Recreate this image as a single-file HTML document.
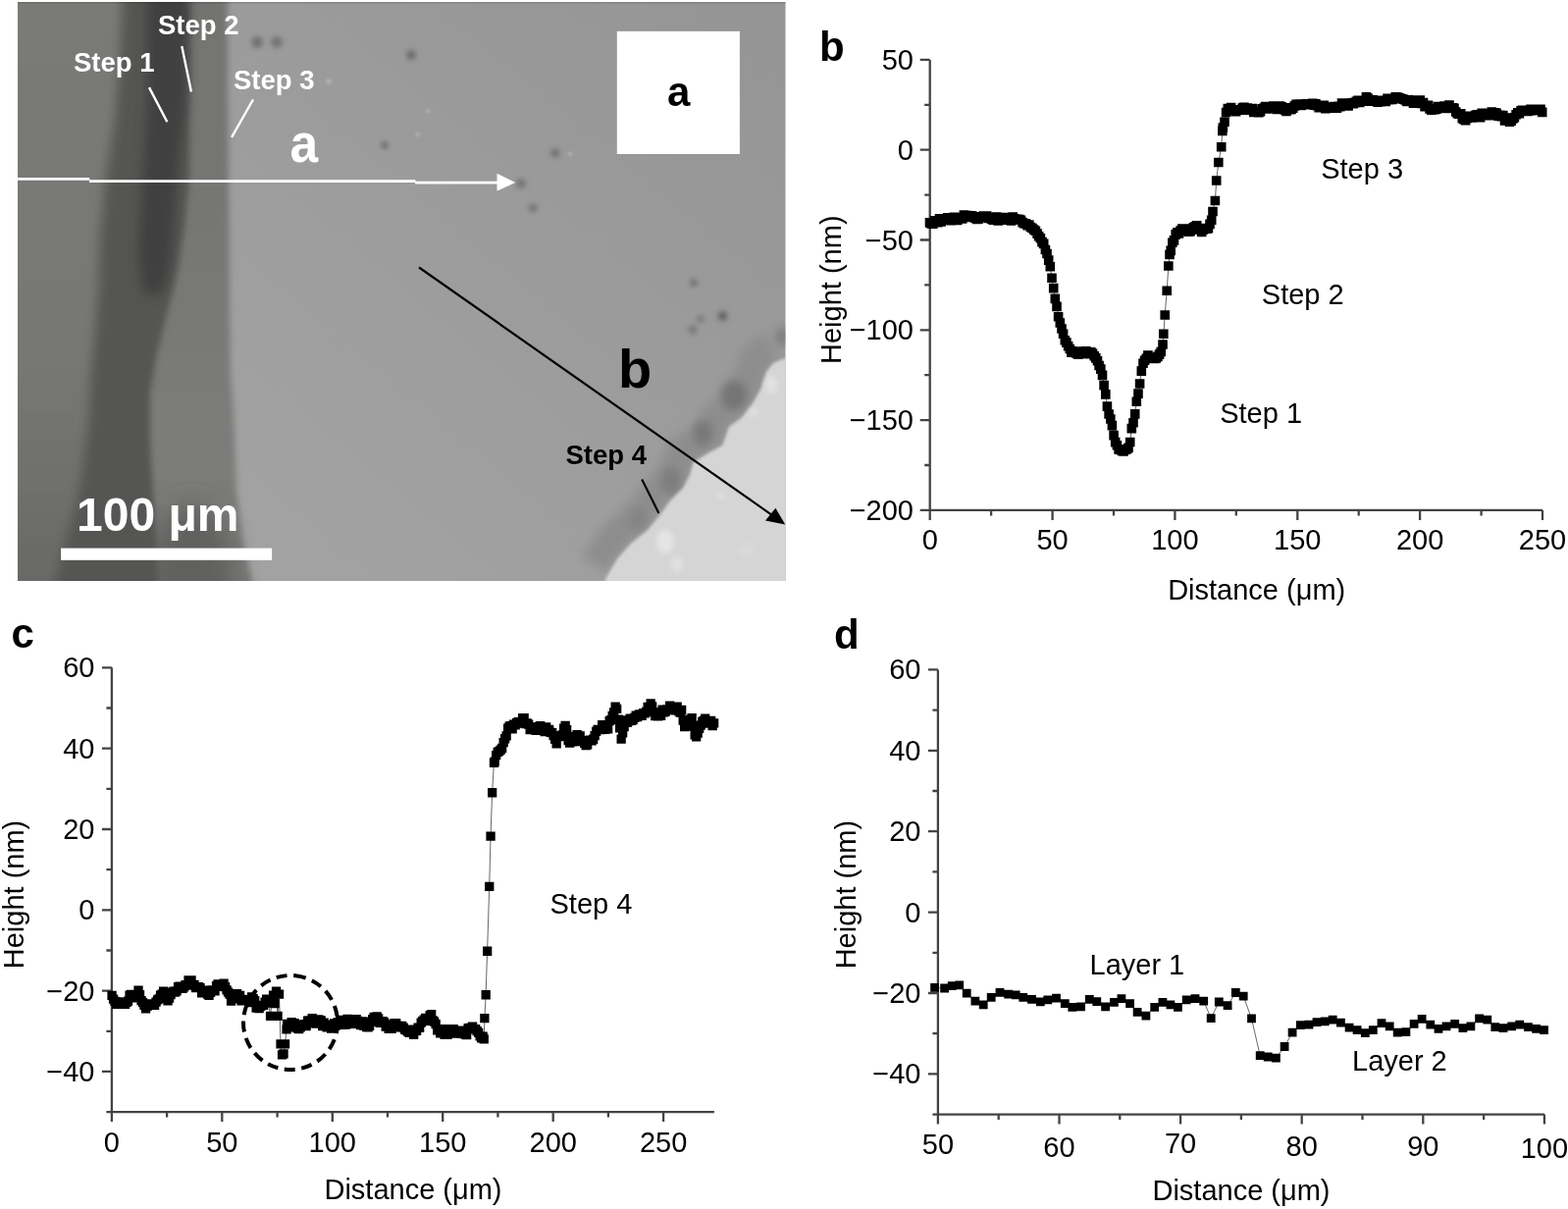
<!DOCTYPE html>
<html><head><meta charset="utf-8"><title>Figure</title>
<style>
html,body{margin:0;padding:0;background:#fff;width:1598px;height:1232px;overflow:hidden}
svg{position:absolute;left:0;top:0;display:block}
text{font-family:'Liberation Sans', Arial, Helvetica, sans-serif}
</style></head><body>
<svg width="1598" height="1232" viewBox="0 0 1598 1232">
<defs>
<clipPath id="pc"><rect x="18" y="2" width="782.5" height="590"/></clipPath>
<filter id="b3" x="-20%" y="-20%" width="140%" height="140%"><feGaussianBlur stdDeviation="3"/></filter>
<filter id="b4" x="-100%" y="-100%" width="300%" height="300%"><feGaussianBlur stdDeviation="4"/></filter>
<filter id="s3" x="-150%" y="-150%" width="400%" height="400%"><feGaussianBlur stdDeviation="2.5"/></filter>
<filter id="b6" x="-20%" y="-20%" width="140%" height="140%"><feGaussianBlur stdDeviation="6"/></filter>
<filter id="b12" x="-50%" y="-50%" width="200%" height="200%"><feGaussianBlur stdDeviation="12"/></filter>
<filter id="b2" x="-150%" y="-150%" width="400%" height="400%"><feGaussianBlur stdDeviation="1.6"/></filter>
<linearGradient id="lg" x1="0" y1="0" x2="0" y2="1"><stop offset="0" stop-color="rgb(122,122,120)"/><stop offset="0.6" stop-color="rgb(119,119,117)"/><stop offset="1" stop-color="rgb(104,104,102)"/></linearGradient>
<linearGradient id="bg" gradientUnits="userSpaceOnUse" x1="780" y1="20" x2="330" y2="560"><stop offset="0" stop-color="rgb(149,149,150)"/><stop offset="1" stop-color="rgb(162,162,163)"/></linearGradient>
<linearGradient id="s2g" x1="0" y1="0" x2="0" y2="1"><stop offset="0" stop-color="rgb(115,115,113)"/><stop offset="0.35" stop-color="rgb(118,118,116)"/><stop offset="0.75" stop-color="rgb(124,124,122)"/><stop offset="1" stop-color="rgb(118,118,116)"/></linearGradient>
</defs>
<g clip-path="url(#pc)">
<rect x="18" y="2" width="783" height="590" fill="url(#bg)"/>
<polygon points="0.0,-10.0 232.0,-10.0 232.0,100.0 233.0,180.0 234.0,300.0 235.0,380.0 238.0,420.0 241.0,500.0 249.0,560.0 262.0,610.0 0.0,610.0" fill="url(#s2g)" filter="url(#b3)"/>
<ellipse cx="195" cy="585" rx="42" ry="70" fill="rgb(96,96,94)" filter="url(#b12)"/>
<polygon points="0.0,-10.0 193.0,-10.0 193.0,100.0 193.0,180.0 188.0,230.0 180.0,280.0 170.0,320.0 160.0,360.0 153.0,400.0 153.0,450.0 156.0,500.0 160.0,560.0 162.0,610.0 0.0,610.0" fill="rgb(84,84,83)" filter="url(#b3)"/>
<polygon points="0.0,-10.0 125.0,-10.0 122.0,60.0 117.0,120.0 108.0,180.0 102.0,240.0 100.0,300.0 93.0,380.0 90.0,430.0 84.0,480.0 76.0,520.0 64.0,560.0 52.0,610.0 0.0,610.0" fill="url(#lg)" filter="url(#b6)"/>
<polygon points="150.0,-10.0 150.0,100.0 147.0,160.0 143.0,220.0 141.0,260.0 146.0,300.0 166.0,300.0 175.0,260.0 178.0,220.0 183.0,160.0 190.0,100.0 192.0,-10.0" fill="rgb(64,64,63)" filter="url(#b6)"/>
<polyline points="787.0,354.0 775.0,359.0 768.0,368.0 762.5,385.0 760.8,388.0 752.2,403.4 741.9,415.5 729.9,424.0 726.4,434.4 723.0,443.0 707.5,451.6 693.7,460.2 690.3,472.3 683.4,486.0 669.6,499.8 661.0,511.9 647.2,529.0 630.0,542.8 616.3,558.3 605.9,575.5" fill="none" stroke="rgb(141,141,141)" stroke-width="30" stroke-linejoin="round" filter="url(#b6)"/>
<ellipse cx="748" cy="403" rx="13" ry="15" fill="rgb(116,116,116)" filter="url(#b4)"/>
<ellipse cx="716" cy="441" rx="10" ry="13" fill="rgb(120,120,120)" filter="url(#b4)"/>
<ellipse cx="684" cy="490" rx="10" ry="14" fill="rgb(126,126,126)" filter="url(#b4)"/>
<ellipse cx="650" cy="529" rx="9" ry="11" fill="rgb(132,132,132)" filter="url(#b4)"/>
<ellipse cx="797" cy="343" rx="6" ry="10" fill="rgb(124,124,124)" filter="url(#b4)"/>
<polygon points="820.0,362.0 800.0,365.0 788.0,370.0 781.0,379.0 775.5,396.0 773.8,399.0 765.2,414.4 754.9,426.5 742.9,435.0 739.4,445.4 736.0,454.0 720.5,462.6 706.7,471.2 703.3,483.3 696.4,497.0 682.6,510.8 674.0,522.9 660.2,540.0 643.0,553.8 629.3,569.3 618.9,586.5 613.0,600.0 820.0,600.0" fill="rgb(213,213,213)" filter="url(#b2)"/>
<circle cx="262.0" cy="43.0" r="6.0" fill="rgb(114,114,114)" filter="url(#s3)"/>
<circle cx="282.0" cy="43.0" r="6.0" fill="rgb(116,116,116)" filter="url(#s3)"/>
<circle cx="419.0" cy="56.0" r="5.0" fill="rgb(108,108,108)" filter="url(#s3)"/>
<circle cx="392.0" cy="148.0" r="4.0" fill="rgb(114,114,114)" filter="url(#s3)"/>
<circle cx="566.0" cy="156.0" r="4.5" fill="rgb(112,112,112)" filter="url(#s3)"/>
<circle cx="531.0" cy="187.0" r="5.0" fill="rgb(116,116,116)" filter="url(#s3)"/>
<circle cx="543.0" cy="212.0" r="4.5" fill="rgb(118,118,118)" filter="url(#s3)"/>
<circle cx="736.5" cy="322.0" r="5.0" fill="rgb(102,102,102)" filter="url(#s3)"/>
<circle cx="707.0" cy="288.0" r="4.0" fill="rgb(114,114,114)" filter="url(#s3)"/>
<circle cx="706.0" cy="336.0" r="5.0" fill="rgb(126,126,126)" filter="url(#s3)"/>
<circle cx="714.0" cy="325.0" r="4.0" fill="rgb(124,124,124)" filter="url(#s3)"/>
<circle cx="335.0" cy="83.0" r="2.5" fill="#b4b6b6" filter="url(#b2)"/>
<circle cx="436.0" cy="113.0" r="2.0" fill="#b4b6b6" filter="url(#b2)"/>
<circle cx="426.0" cy="137.0" r="2.0" fill="#b4b6b6" filter="url(#b2)"/>
<circle cx="581.0" cy="157.0" r="2.0" fill="#b4b6b6" filter="url(#b2)"/>
<ellipse cx="678" cy="552" rx="9" ry="12" fill="rgb(228,228,228)" filter="url(#s3)"/>
<ellipse cx="690" cy="575" rx="6" ry="8" fill="rgb(224,224,224)" filter="url(#s3)"/>
<ellipse cx="786" cy="392" rx="6" ry="9" fill="rgb(226,226,226)" filter="url(#s3)"/>
<ellipse cx="768" cy="420" rx="5" ry="5" fill="rgb(222,222,222)" filter="url(#s3)"/>
<ellipse cx="735" cy="505" rx="5" ry="4" fill="rgb(222,222,222)" filter="url(#s3)"/>
<ellipse cx="760" cy="560" rx="8" ry="6" fill="rgb(218,218,218)" filter="url(#s3)"/>
<rect x="18" y="2" width="783" height="1.6" fill="#000" opacity="0.12"/>
</g>
<rect x="628.8" y="31.9" width="125.1" height="125.1" fill="#fff"/>
<g font-family="'Liberation Sans', Arial, Helvetica, sans-serif" font-weight="bold">
<text x="680" y="107.8" font-size="42" fill="#000">a</text>
<text x="295.5" y="164.8" font-size="56" fill="#fff" transform="translate(295.5 0) scale(0.92 1) translate(-295.5 0)">a</text>
<text x="630" y="395" font-size="56" fill="#000">b</text>
<g font-size="27.5" fill="#fff">
<text x="75" y="72.5">Step 1</text>
<text x="161" y="35">Step 2</text>
<text x="238" y="90.9">Step 3</text>
</g>
<text x="576.5" y="472.7" font-size="27.5" fill="#000">Step 4</text>
<text x="78" y="541" font-size="48" fill="#fff">100 μm</text>
</g>
<path d="M152 89.1L170.4 124.2M185.3 47L194.9 93.5M258 101.4L236.1 139.9" stroke="#fff" stroke-width="2.4" fill="none"/>
<path d="M654.2 488.4L671.4 522.9" stroke="#000" stroke-width="2.2" fill="none"/>
<rect x="62.1" y="558.6" width="215" height="12.2" fill="#fff"/>
<path d="M18 182.4H91.2M91 184.7H423.5M423 186.2H508" stroke="#fff" stroke-width="2.8" fill="none"/>
<polygon points="506.5,176.8 525.3,186.1 506.5,194.6" fill="#fff"/>
<path d="M427 272.5L786 524.3" stroke="#000" stroke-width="2.2" fill="none"/>
<polygon points="790.4,517.7 780,530.4 800.3,534.4" fill="#000"/>
<g font-family="'Liberation Sans', Arial, Helvetica, sans-serif" font-weight="bold" font-size="42" fill="#000">
<text x="835" y="61.8">b</text>
<text x="11.6" y="660">c</text>
<text x="850" y="661">d</text>
</g>
<path d="M947.7 60.9V519.9H1572.0" fill="none" stroke="#434343" stroke-width="2.3"/>
<path d="M937.7 60.9h10.0M942.2 106.8h5.5M937.7 152.7h10.0M942.2 198.6h5.5M937.7 244.5h10.0M942.2 290.4h5.5M937.7 336.3h10.0M942.2 382.2h5.5M937.7 428.1h10.0M942.2 474.0h5.5M937.7 519.9h10.0M947.7 519.9v10.0M1010.1 519.9v5.5M1072.6 519.9v10.0M1135.0 519.9v5.5M1197.4 519.9v10.0M1259.8 519.9v5.5M1322.3 519.9v10.0M1384.7 519.9v5.5M1447.1 519.9v10.0M1509.6 519.9v5.5M1572.0 519.9v10.0" stroke="#434343" stroke-width="2.3" fill="none"/>
<g font-size="29" fill="#000">
<text x="931.0" y="70.9" text-anchor="end">50</text>
<text x="931.0" y="162.7" text-anchor="end">0</text>
<text x="931.0" y="254.5" text-anchor="end">−50</text>
<text x="931.0" y="346.3" text-anchor="end">−100</text>
<text x="931.0" y="438.1" text-anchor="end">−150</text>
<text x="931.0" y="529.9" text-anchor="end">−200</text>
<text x="947.7" y="560.0" text-anchor="middle">0</text>
<text x="1072.6" y="560.0" text-anchor="middle">50</text>
<text x="1197.4" y="560.0" text-anchor="middle">100</text>
<text x="1322.3" y="560.0" text-anchor="middle">150</text>
<text x="1447.1" y="560.0" text-anchor="middle">200</text>
<text x="1572.0" y="560.0" text-anchor="middle">250</text>
<text transform="translate(857,295.2) rotate(-90)" text-anchor="middle">Height (nm)</text>
<text x="1280.7" y="610.6" text-anchor="middle">Distance (μm)</text>
<text x="1346.2" y="181.9">Step 3</text>
<text x="1285.8" y="310.4">Step 2</text>
<text x="1243.2" y="430.9">Step 1</text>
</g>
<polyline points="947.5,226.9 949.2,228.0 950.8,228.3 952.5,224.7 954.1,226.4 955.8,226.8 957.5,222.8 959.1,226.0 960.8,223.0 962.4,223.9 964.1,223.5 965.8,221.9 967.4,223.1 969.1,224.7 970.7,223.3 972.4,221.4 974.1,224.0 975.7,224.4 977.4,222.9 979.0,221.5 980.7,222.9 982.4,219.0 984.0,221.5 985.7,219.5 987.3,221.3 989.0,219.8 990.7,220.1 992.3,221.5 994.0,222.1 995.6,223.4 997.3,223.0 999.0,220.9 1000.6,221.3 1002.3,220.0 1003.9,220.5 1005.6,220.1 1007.3,222.5 1008.9,221.2 1010.6,223.2 1012.2,224.1 1013.9,222.5 1015.6,221.1 1017.2,225.0 1018.9,222.7 1020.5,221.6 1022.2,221.5 1023.9,222.6 1025.5,224.1 1027.2,223.9 1028.8,221.8 1030.5,225.0 1032.2,221.0 1033.8,222.9 1035.5,223.6 1037.1,223.2 1038.8,223.6 1040.5,224.2 1042.1,226.6 1043.8,227.7 1045.4,227.9 1047.1,229.7 1048.8,229.0 1050.4,231.5 1052.1,232.5 1053.7,234.0 1055.4,235.3 1057.1,238.1 1058.7,240.8 1060.4,242.7 1062.0,246.6 1063.7,248.4 1065.4,254.5 1067.0,258.5 1068.7,265.1 1070.3,271.8 1072.0,283.3 1073.7,293.6 1075.3,304.4 1077.0,312.4 1078.6,322.7 1080.3,329.0 1082.0,335.0 1083.6,340.3 1085.3,346.7 1086.9,349.1 1088.6,352.8 1090.3,355.5 1091.9,359.2 1093.6,357.7 1095.2,359.2 1096.9,359.9 1098.6,361.3 1100.2,360.7 1101.9,360.4 1103.5,358.1 1105.2,358.1 1106.9,357.8 1108.5,359.9 1110.2,360.6 1111.8,358.7 1113.5,360.3 1115.2,362.7 1116.8,364.9 1118.5,367.8 1120.1,372.5 1121.8,376.1 1123.5,382.4 1125.1,392.6 1126.8,401.9 1128.4,414.1 1130.1,422.0 1131.8,427.0 1133.4,433.6 1135.1,443.6 1136.7,450.6 1138.4,453.8 1140.1,457.9 1141.7,458.3 1143.4,459.4 1145.0,459.9 1146.7,458.2 1148.4,457.7 1150.0,456.4 1151.7,450.5 1153.3,436.6 1155.0,430.8 1156.7,421.9 1158.3,409.2 1160.0,401.1 1161.6,391.0 1163.3,378.1 1165.0,370.2 1166.6,367.2 1168.3,365.2 1169.9,362.0 1171.6,365.2 1173.3,365.1 1174.9,364.4 1176.6,365.4 1178.2,365.0 1179.9,363.4 1181.6,361.1 1183.2,358.5 1185.0,351.0 1185.8,340.2 1187.2,321.0 1189.2,296.3 1190.8,271.0 1192.0,259.5 1193.2,255.4 1194.8,247.3 1196.5,244.9 1198.2,238.9 1199.8,236.8 1201.5,237.9 1203.1,235.0 1204.8,233.0 1206.5,234.4 1208.1,233.0 1209.8,234.6 1211.4,236.1 1213.1,235.6 1214.8,234.0 1216.4,231.7 1218.1,230.9 1219.7,229.8 1221.4,233.4 1223.1,234.3 1224.7,236.4 1226.4,234.0 1228.0,232.6 1229.7,233.3 1231.4,232.7 1233.0,228.4 1234.7,224.3 1236.0,215.5 1238.4,204.5 1239.7,184.0 1241.8,165.5 1244.7,149.7 1245.8,133.4 1246.3,130.0 1248.0,124.3 1249.6,114.5 1251.3,110.6 1252.9,111.4 1254.6,109.6 1256.3,112.4 1257.9,112.7 1259.6,113.6 1261.2,111.8 1262.9,111.8 1264.6,112.2 1266.2,110.1 1267.9,109.4 1269.5,112.3 1271.2,110.0 1272.9,111.7 1274.5,111.1 1276.2,110.6 1277.8,114.4 1279.5,113.2 1281.2,114.5 1282.8,114.7 1284.5,113.8 1286.1,110.7 1287.8,110.3 1289.5,108.6 1291.1,111.0 1292.8,109.0 1294.4,110.0 1296.1,109.2 1297.8,108.0 1299.4,108.9 1301.1,111.5 1302.7,109.8 1304.4,108.0 1306.1,108.7 1307.7,110.0 1309.4,111.9 1311.0,113.4 1312.7,109.9 1314.4,111.6 1316.0,111.5 1317.7,110.1 1319.3,108.0 1321.0,106.4 1322.7,107.1 1324.3,106.0 1326.0,107.5 1327.6,106.1 1329.3,106.2 1331.0,105.8 1332.6,106.7 1334.3,106.7 1335.9,106.2 1337.6,105.2 1339.3,107.1 1340.9,105.8 1342.6,107.6 1344.2,109.6 1345.9,107.4 1347.6,107.7 1349.2,107.4 1350.9,110.6 1352.5,109.4 1354.2,109.5 1355.9,110.2 1357.5,109.6 1359.2,108.6 1360.8,110.2 1362.5,110.1 1364.2,108.4 1365.8,108.8 1367.5,105.1 1369.1,106.1 1370.8,105.6 1372.5,106.0 1374.1,108.0 1375.8,105.6 1377.4,104.8 1379.1,105.8 1380.8,104.6 1382.4,103.4 1384.1,102.4 1385.7,104.5 1387.4,102.5 1389.1,102.4 1390.7,103.1 1392.4,98.8 1394.0,100.1 1395.7,103.1 1397.4,103.1 1399.0,101.9 1400.7,102.2 1402.3,102.8 1404.0,104.1 1405.7,102.5 1407.3,103.7 1409.0,102.2 1410.6,103.3 1412.3,103.4 1414.0,100.4 1415.6,101.8 1417.3,101.5 1418.9,101.4 1420.6,100.7 1422.3,98.8 1423.9,99.0 1425.6,99.6 1427.2,100.2 1428.9,100.8 1430.6,101.2 1432.2,102.0 1433.9,103.4 1435.5,101.9 1437.2,102.8 1438.9,102.0 1440.5,105.2 1442.2,102.6 1443.8,105.1 1445.5,102.9 1447.2,102.1 1448.8,105.5 1450.5,104.5 1452.1,108.6 1453.8,108.1 1455.5,107.4 1457.1,110.9 1458.8,112.3 1460.4,111.1 1462.1,111.7 1463.8,111.3 1465.4,108.6 1467.1,108.5 1468.7,108.8 1470.4,110.4 1472.1,108.1 1473.7,110.4 1475.4,109.2 1477.0,107.0 1478.7,110.3 1480.4,109.9 1482.0,110.2 1483.7,114.0 1485.3,115.7 1487.0,116.2 1488.7,115.7 1490.3,120.8 1492.0,121.8 1493.6,122.6 1495.3,120.4 1497.0,118.2 1498.6,119.1 1500.3,119.9 1501.9,118.8 1503.6,117.5 1505.3,116.7 1506.9,117.2 1508.6,119.6 1510.2,115.2 1511.9,115.8 1513.6,117.5 1515.2,116.1 1516.9,117.8 1518.5,116.5 1520.2,114.0 1521.9,117.0 1523.5,114.9 1525.2,115.2 1526.8,118.2 1528.5,117.4 1530.2,118.7 1531.8,117.5 1533.5,122.9 1535.1,120.0 1536.8,122.4 1538.5,124.2 1540.1,123.3 1541.8,121.0 1543.4,119.8 1545.1,116.8 1546.8,114.8 1548.4,115.6 1550.1,112.7 1551.7,112.4 1553.4,112.2 1555.1,112.4 1556.7,113.5 1558.4,112.9 1560.0,111.4 1561.7,112.6 1563.4,111.8 1565.0,112.2 1566.7,111.4 1568.3,111.3 1570.0,111.3 1571.7,114.4" fill="none" stroke="#666" stroke-width="1"/>
<path d="M942.7 222.1h9.6v9.6h-9.6zM944.4 223.2h9.6v9.6h-9.6zM946.0 223.5h9.6v9.6h-9.6zM947.7 219.9h9.6v9.6h-9.6zM949.3 221.6h9.6v9.6h-9.6zM951.0 222.0h9.6v9.6h-9.6zM952.7 218.0h9.6v9.6h-9.6zM954.3 221.2h9.6v9.6h-9.6zM956.0 218.2h9.6v9.6h-9.6zM957.6 219.1h9.6v9.6h-9.6zM959.3 218.7h9.6v9.6h-9.6zM961.0 217.1h9.6v9.6h-9.6zM962.6 218.3h9.6v9.6h-9.6zM964.3 219.9h9.6v9.6h-9.6zM965.9 218.5h9.6v9.6h-9.6zM967.6 216.6h9.6v9.6h-9.6zM969.3 219.2h9.6v9.6h-9.6zM970.9 219.6h9.6v9.6h-9.6zM972.6 218.1h9.6v9.6h-9.6zM974.2 216.7h9.6v9.6h-9.6zM975.9 218.1h9.6v9.6h-9.6zM977.6 214.2h9.6v9.6h-9.6zM979.2 216.7h9.6v9.6h-9.6zM980.9 214.7h9.6v9.6h-9.6zM982.5 216.5h9.6v9.6h-9.6zM984.2 215.0h9.6v9.6h-9.6zM985.9 215.3h9.6v9.6h-9.6zM987.5 216.7h9.6v9.6h-9.6zM989.2 217.3h9.6v9.6h-9.6zM990.8 218.6h9.6v9.6h-9.6zM992.5 218.2h9.6v9.6h-9.6zM994.2 216.1h9.6v9.6h-9.6zM995.8 216.5h9.6v9.6h-9.6zM997.5 215.2h9.6v9.6h-9.6zM999.1 215.7h9.6v9.6h-9.6zM1000.8 215.3h9.6v9.6h-9.6zM1002.5 217.7h9.6v9.6h-9.6zM1004.1 216.4h9.6v9.6h-9.6zM1005.8 218.4h9.6v9.6h-9.6zM1007.4 219.3h9.6v9.6h-9.6zM1009.1 217.7h9.6v9.6h-9.6zM1010.8 216.3h9.6v9.6h-9.6zM1012.4 220.2h9.6v9.6h-9.6zM1014.1 217.9h9.6v9.6h-9.6zM1015.7 216.8h9.6v9.6h-9.6zM1017.4 216.7h9.6v9.6h-9.6zM1019.1 217.8h9.6v9.6h-9.6zM1020.7 219.3h9.6v9.6h-9.6zM1022.4 219.1h9.6v9.6h-9.6zM1024.0 217.0h9.6v9.6h-9.6zM1025.7 220.2h9.6v9.6h-9.6zM1027.4 216.2h9.6v9.6h-9.6zM1029.0 218.1h9.6v9.6h-9.6zM1030.7 218.8h9.6v9.6h-9.6zM1032.3 218.4h9.6v9.6h-9.6zM1034.0 218.8h9.6v9.6h-9.6zM1035.7 219.4h9.6v9.6h-9.6zM1037.3 221.8h9.6v9.6h-9.6zM1039.0 222.9h9.6v9.6h-9.6zM1040.6 223.1h9.6v9.6h-9.6zM1042.3 224.9h9.6v9.6h-9.6zM1044.0 224.2h9.6v9.6h-9.6zM1045.6 226.7h9.6v9.6h-9.6zM1047.3 227.7h9.6v9.6h-9.6zM1048.9 229.2h9.6v9.6h-9.6zM1050.6 230.5h9.6v9.6h-9.6zM1052.3 233.3h9.6v9.6h-9.6zM1053.9 236.0h9.6v9.6h-9.6zM1055.6 237.9h9.6v9.6h-9.6zM1057.2 241.8h9.6v9.6h-9.6zM1058.9 243.6h9.6v9.6h-9.6zM1060.6 249.7h9.6v9.6h-9.6zM1062.2 253.7h9.6v9.6h-9.6zM1063.9 260.3h9.6v9.6h-9.6zM1065.5 267.0h9.6v9.6h-9.6zM1067.2 278.5h9.6v9.6h-9.6zM1068.9 288.8h9.6v9.6h-9.6zM1070.5 299.6h9.6v9.6h-9.6zM1072.2 307.6h9.6v9.6h-9.6zM1073.8 317.9h9.6v9.6h-9.6zM1075.5 324.2h9.6v9.6h-9.6zM1077.2 330.2h9.6v9.6h-9.6zM1078.8 335.5h9.6v9.6h-9.6zM1080.5 341.9h9.6v9.6h-9.6zM1082.1 344.3h9.6v9.6h-9.6zM1083.8 348.0h9.6v9.6h-9.6zM1085.5 350.7h9.6v9.6h-9.6zM1087.1 354.4h9.6v9.6h-9.6zM1088.8 352.9h9.6v9.6h-9.6zM1090.4 354.4h9.6v9.6h-9.6zM1092.1 355.1h9.6v9.6h-9.6zM1093.8 356.5h9.6v9.6h-9.6zM1095.4 355.9h9.6v9.6h-9.6zM1097.1 355.6h9.6v9.6h-9.6zM1098.7 353.3h9.6v9.6h-9.6zM1100.4 353.3h9.6v9.6h-9.6zM1102.1 353.0h9.6v9.6h-9.6zM1103.7 355.1h9.6v9.6h-9.6zM1105.4 355.8h9.6v9.6h-9.6zM1107.0 353.9h9.6v9.6h-9.6zM1108.7 355.5h9.6v9.6h-9.6zM1110.4 357.9h9.6v9.6h-9.6zM1112.0 360.1h9.6v9.6h-9.6zM1113.7 363.0h9.6v9.6h-9.6zM1115.3 367.7h9.6v9.6h-9.6zM1117.0 371.3h9.6v9.6h-9.6zM1118.7 377.6h9.6v9.6h-9.6zM1120.3 387.8h9.6v9.6h-9.6zM1122.0 397.1h9.6v9.6h-9.6zM1123.6 409.3h9.6v9.6h-9.6zM1125.3 417.2h9.6v9.6h-9.6zM1127.0 422.2h9.6v9.6h-9.6zM1128.6 428.8h9.6v9.6h-9.6zM1130.3 438.8h9.6v9.6h-9.6zM1131.9 445.8h9.6v9.6h-9.6zM1133.6 449.0h9.6v9.6h-9.6zM1135.3 453.1h9.6v9.6h-9.6zM1136.9 453.5h9.6v9.6h-9.6zM1138.6 454.6h9.6v9.6h-9.6zM1140.2 455.1h9.6v9.6h-9.6zM1141.9 453.4h9.6v9.6h-9.6zM1143.6 452.9h9.6v9.6h-9.6zM1145.2 451.6h9.6v9.6h-9.6zM1146.9 445.7h9.6v9.6h-9.6zM1148.5 431.8h9.6v9.6h-9.6zM1150.2 426.0h9.6v9.6h-9.6zM1151.9 417.1h9.6v9.6h-9.6zM1153.5 404.4h9.6v9.6h-9.6zM1155.2 396.3h9.6v9.6h-9.6zM1156.8 386.2h9.6v9.6h-9.6zM1158.5 373.3h9.6v9.6h-9.6zM1160.2 365.4h9.6v9.6h-9.6zM1161.8 362.4h9.6v9.6h-9.6zM1163.5 360.4h9.6v9.6h-9.6zM1165.1 357.2h9.6v9.6h-9.6zM1166.8 360.4h9.6v9.6h-9.6zM1168.5 360.3h9.6v9.6h-9.6zM1170.1 359.6h9.6v9.6h-9.6zM1171.8 360.6h9.6v9.6h-9.6zM1173.4 360.2h9.6v9.6h-9.6zM1175.1 358.6h9.6v9.6h-9.6zM1176.8 356.3h9.6v9.6h-9.6zM1178.4 353.7h9.6v9.6h-9.6zM1180.2 346.2h9.6v9.6h-9.6zM1181.0 335.4h9.6v9.6h-9.6zM1182.4 316.2h9.6v9.6h-9.6zM1184.4 291.5h9.6v9.6h-9.6zM1186.0 266.2h9.6v9.6h-9.6zM1187.2 254.7h9.6v9.6h-9.6zM1188.4 250.6h9.6v9.6h-9.6zM1190.0 242.5h9.6v9.6h-9.6zM1191.7 240.1h9.6v9.6h-9.6zM1193.4 234.1h9.6v9.6h-9.6zM1195.0 232.0h9.6v9.6h-9.6zM1196.7 233.1h9.6v9.6h-9.6zM1198.3 230.2h9.6v9.6h-9.6zM1200.0 228.2h9.6v9.6h-9.6zM1201.7 229.6h9.6v9.6h-9.6zM1203.3 228.2h9.6v9.6h-9.6zM1205.0 229.8h9.6v9.6h-9.6zM1206.6 231.3h9.6v9.6h-9.6zM1208.3 230.8h9.6v9.6h-9.6zM1210.0 229.2h9.6v9.6h-9.6zM1211.6 226.9h9.6v9.6h-9.6zM1213.3 226.1h9.6v9.6h-9.6zM1214.9 225.0h9.6v9.6h-9.6zM1216.6 228.6h9.6v9.6h-9.6zM1218.3 229.5h9.6v9.6h-9.6zM1219.9 231.6h9.6v9.6h-9.6zM1221.6 229.2h9.6v9.6h-9.6zM1223.2 227.8h9.6v9.6h-9.6zM1224.9 228.5h9.6v9.6h-9.6zM1226.6 227.9h9.6v9.6h-9.6zM1228.2 223.6h9.6v9.6h-9.6zM1229.9 219.5h9.6v9.6h-9.6zM1231.2 210.7h9.6v9.6h-9.6zM1233.6 199.7h9.6v9.6h-9.6zM1234.9 179.2h9.6v9.6h-9.6zM1237.0 160.7h9.6v9.6h-9.6zM1239.9 144.9h9.6v9.6h-9.6zM1241.0 128.6h9.6v9.6h-9.6zM1241.5 125.2h9.6v9.6h-9.6zM1243.2 119.5h9.6v9.6h-9.6zM1244.8 109.7h9.6v9.6h-9.6zM1246.5 105.8h9.6v9.6h-9.6zM1248.1 106.6h9.6v9.6h-9.6zM1249.8 104.8h9.6v9.6h-9.6zM1251.5 107.6h9.6v9.6h-9.6zM1253.1 107.9h9.6v9.6h-9.6zM1254.8 108.8h9.6v9.6h-9.6zM1256.4 107.0h9.6v9.6h-9.6zM1258.1 107.0h9.6v9.6h-9.6zM1259.8 107.4h9.6v9.6h-9.6zM1261.4 105.3h9.6v9.6h-9.6zM1263.1 104.6h9.6v9.6h-9.6zM1264.7 107.5h9.6v9.6h-9.6zM1266.4 105.2h9.6v9.6h-9.6zM1268.1 106.9h9.6v9.6h-9.6zM1269.7 106.3h9.6v9.6h-9.6zM1271.4 105.8h9.6v9.6h-9.6zM1273.0 109.6h9.6v9.6h-9.6zM1274.7 108.4h9.6v9.6h-9.6zM1276.4 109.7h9.6v9.6h-9.6zM1278.0 109.9h9.6v9.6h-9.6zM1279.7 109.0h9.6v9.6h-9.6zM1281.3 105.9h9.6v9.6h-9.6zM1283.0 105.5h9.6v9.6h-9.6zM1284.7 103.8h9.6v9.6h-9.6zM1286.3 106.2h9.6v9.6h-9.6zM1288.0 104.2h9.6v9.6h-9.6zM1289.6 105.2h9.6v9.6h-9.6zM1291.3 104.4h9.6v9.6h-9.6zM1293.0 103.2h9.6v9.6h-9.6zM1294.6 104.1h9.6v9.6h-9.6zM1296.3 106.7h9.6v9.6h-9.6zM1297.9 105.0h9.6v9.6h-9.6zM1299.6 103.2h9.6v9.6h-9.6zM1301.3 103.9h9.6v9.6h-9.6zM1302.9 105.2h9.6v9.6h-9.6zM1304.6 107.1h9.6v9.6h-9.6zM1306.2 108.6h9.6v9.6h-9.6zM1307.9 105.1h9.6v9.6h-9.6zM1309.6 106.8h9.6v9.6h-9.6zM1311.2 106.7h9.6v9.6h-9.6zM1312.9 105.3h9.6v9.6h-9.6zM1314.5 103.2h9.6v9.6h-9.6zM1316.2 101.6h9.6v9.6h-9.6zM1317.9 102.3h9.6v9.6h-9.6zM1319.5 101.2h9.6v9.6h-9.6zM1321.2 102.7h9.6v9.6h-9.6zM1322.8 101.3h9.6v9.6h-9.6zM1324.5 101.4h9.6v9.6h-9.6zM1326.2 101.0h9.6v9.6h-9.6zM1327.8 101.9h9.6v9.6h-9.6zM1329.5 101.9h9.6v9.6h-9.6zM1331.1 101.4h9.6v9.6h-9.6zM1332.8 100.4h9.6v9.6h-9.6zM1334.5 102.3h9.6v9.6h-9.6zM1336.1 101.0h9.6v9.6h-9.6zM1337.8 102.8h9.6v9.6h-9.6zM1339.4 104.8h9.6v9.6h-9.6zM1341.1 102.6h9.6v9.6h-9.6zM1342.8 102.9h9.6v9.6h-9.6zM1344.4 102.6h9.6v9.6h-9.6zM1346.1 105.8h9.6v9.6h-9.6zM1347.7 104.6h9.6v9.6h-9.6zM1349.4 104.7h9.6v9.6h-9.6zM1351.1 105.4h9.6v9.6h-9.6zM1352.7 104.8h9.6v9.6h-9.6zM1354.4 103.8h9.6v9.6h-9.6zM1356.0 105.4h9.6v9.6h-9.6zM1357.7 105.3h9.6v9.6h-9.6zM1359.4 103.6h9.6v9.6h-9.6zM1361.0 104.0h9.6v9.6h-9.6zM1362.7 100.3h9.6v9.6h-9.6zM1364.3 101.3h9.6v9.6h-9.6zM1366.0 100.8h9.6v9.6h-9.6zM1367.7 101.2h9.6v9.6h-9.6zM1369.3 103.2h9.6v9.6h-9.6zM1371.0 100.8h9.6v9.6h-9.6zM1372.6 100.0h9.6v9.6h-9.6zM1374.3 101.0h9.6v9.6h-9.6zM1376.0 99.8h9.6v9.6h-9.6zM1377.6 98.6h9.6v9.6h-9.6zM1379.3 97.6h9.6v9.6h-9.6zM1380.9 99.7h9.6v9.6h-9.6zM1382.6 97.7h9.6v9.6h-9.6zM1384.3 97.6h9.6v9.6h-9.6zM1385.9 98.3h9.6v9.6h-9.6zM1387.6 94.0h9.6v9.6h-9.6zM1389.2 95.3h9.6v9.6h-9.6zM1390.9 98.3h9.6v9.6h-9.6zM1392.6 98.3h9.6v9.6h-9.6zM1394.2 97.1h9.6v9.6h-9.6zM1395.9 97.4h9.6v9.6h-9.6zM1397.5 98.0h9.6v9.6h-9.6zM1399.2 99.3h9.6v9.6h-9.6zM1400.9 97.7h9.6v9.6h-9.6zM1402.5 98.9h9.6v9.6h-9.6zM1404.2 97.4h9.6v9.6h-9.6zM1405.8 98.5h9.6v9.6h-9.6zM1407.5 98.6h9.6v9.6h-9.6zM1409.2 95.6h9.6v9.6h-9.6zM1410.8 97.0h9.6v9.6h-9.6zM1412.5 96.7h9.6v9.6h-9.6zM1414.1 96.6h9.6v9.6h-9.6zM1415.8 95.9h9.6v9.6h-9.6zM1417.5 94.0h9.6v9.6h-9.6zM1419.1 94.2h9.6v9.6h-9.6zM1420.8 94.8h9.6v9.6h-9.6zM1422.4 95.4h9.6v9.6h-9.6zM1424.1 96.0h9.6v9.6h-9.6zM1425.8 96.4h9.6v9.6h-9.6zM1427.4 97.2h9.6v9.6h-9.6zM1429.1 98.6h9.6v9.6h-9.6zM1430.7 97.1h9.6v9.6h-9.6zM1432.4 98.0h9.6v9.6h-9.6zM1434.1 97.2h9.6v9.6h-9.6zM1435.7 100.4h9.6v9.6h-9.6zM1437.4 97.8h9.6v9.6h-9.6zM1439.0 100.3h9.6v9.6h-9.6zM1440.7 98.1h9.6v9.6h-9.6zM1442.4 97.3h9.6v9.6h-9.6zM1444.0 100.7h9.6v9.6h-9.6zM1445.7 99.7h9.6v9.6h-9.6zM1447.3 103.8h9.6v9.6h-9.6zM1449.0 103.3h9.6v9.6h-9.6zM1450.7 102.6h9.6v9.6h-9.6zM1452.3 106.1h9.6v9.6h-9.6zM1454.0 107.5h9.6v9.6h-9.6zM1455.6 106.3h9.6v9.6h-9.6zM1457.3 106.9h9.6v9.6h-9.6zM1459.0 106.5h9.6v9.6h-9.6zM1460.6 103.8h9.6v9.6h-9.6zM1462.3 103.7h9.6v9.6h-9.6zM1463.9 104.0h9.6v9.6h-9.6zM1465.6 105.6h9.6v9.6h-9.6zM1467.3 103.3h9.6v9.6h-9.6zM1468.9 105.6h9.6v9.6h-9.6zM1470.6 104.4h9.6v9.6h-9.6zM1472.2 102.2h9.6v9.6h-9.6zM1473.9 105.5h9.6v9.6h-9.6zM1475.6 105.1h9.6v9.6h-9.6zM1477.2 105.4h9.6v9.6h-9.6zM1478.9 109.2h9.6v9.6h-9.6zM1480.5 110.9h9.6v9.6h-9.6zM1482.2 111.4h9.6v9.6h-9.6zM1483.9 110.9h9.6v9.6h-9.6zM1485.5 116.0h9.6v9.6h-9.6zM1487.2 117.0h9.6v9.6h-9.6zM1488.8 117.8h9.6v9.6h-9.6zM1490.5 115.6h9.6v9.6h-9.6zM1492.2 113.4h9.6v9.6h-9.6zM1493.8 114.3h9.6v9.6h-9.6zM1495.5 115.1h9.6v9.6h-9.6zM1497.1 114.0h9.6v9.6h-9.6zM1498.8 112.7h9.6v9.6h-9.6zM1500.5 111.9h9.6v9.6h-9.6zM1502.1 112.4h9.6v9.6h-9.6zM1503.8 114.8h9.6v9.6h-9.6zM1505.4 110.4h9.6v9.6h-9.6zM1507.1 111.0h9.6v9.6h-9.6zM1508.8 112.7h9.6v9.6h-9.6zM1510.4 111.3h9.6v9.6h-9.6zM1512.1 113.0h9.6v9.6h-9.6zM1513.7 111.7h9.6v9.6h-9.6zM1515.4 109.2h9.6v9.6h-9.6zM1517.1 112.2h9.6v9.6h-9.6zM1518.7 110.1h9.6v9.6h-9.6zM1520.4 110.4h9.6v9.6h-9.6zM1522.0 113.4h9.6v9.6h-9.6zM1523.7 112.6h9.6v9.6h-9.6zM1525.4 113.9h9.6v9.6h-9.6zM1527.0 112.7h9.6v9.6h-9.6zM1528.7 118.1h9.6v9.6h-9.6zM1530.3 115.2h9.6v9.6h-9.6zM1532.0 117.6h9.6v9.6h-9.6zM1533.7 119.4h9.6v9.6h-9.6zM1535.3 118.5h9.6v9.6h-9.6zM1537.0 116.2h9.6v9.6h-9.6zM1538.6 115.0h9.6v9.6h-9.6zM1540.3 112.0h9.6v9.6h-9.6zM1542.0 110.0h9.6v9.6h-9.6zM1543.6 110.8h9.6v9.6h-9.6zM1545.3 107.9h9.6v9.6h-9.6zM1546.9 107.6h9.6v9.6h-9.6zM1548.6 107.4h9.6v9.6h-9.6zM1550.3 107.6h9.6v9.6h-9.6zM1551.9 108.7h9.6v9.6h-9.6zM1553.6 108.1h9.6v9.6h-9.6zM1555.2 106.6h9.6v9.6h-9.6zM1556.9 107.8h9.6v9.6h-9.6zM1558.6 107.0h9.6v9.6h-9.6zM1560.2 107.4h9.6v9.6h-9.6zM1561.9 106.6h9.6v9.6h-9.6zM1563.5 106.5h9.6v9.6h-9.6zM1565.2 106.5h9.6v9.6h-9.6zM1566.9 109.6h9.6v9.6h-9.6z" fill="#000"/>
<path d="M113.9 680.3V1133.1H727.9" fill="none" stroke="#434343" stroke-width="2.3"/>
<path d="M103.9 680.3h10.0M108.4 721.5h5.5M103.9 762.7h10.0M108.4 803.8h5.5M103.9 845.0h10.0M108.4 886.1h5.5M103.9 927.3h10.0M108.4 968.5h5.5M103.9 1009.6h10.0M108.4 1050.8h5.5M103.9 1091.9h10.0M108.4 1133.1h5.5M113.9 1133.1v10.0M170.1 1133.1v5.5M226.3 1133.1v10.0M282.6 1133.1v5.5M338.8 1133.1v10.0M395.0 1133.1v5.5M451.2 1133.1v10.0M507.4 1133.1v5.5M563.7 1133.1v10.0M619.9 1133.1v5.5M676.1 1133.1v10.0" stroke="#434343" stroke-width="2.3" fill="none"/>
<g font-size="29" fill="#000">
<text x="96.5" y="690.3" text-anchor="end">60</text>
<text x="96.5" y="772.7" text-anchor="end">40</text>
<text x="96.5" y="855.0" text-anchor="end">20</text>
<text x="96.5" y="937.3" text-anchor="end">0</text>
<text x="96.5" y="1019.6" text-anchor="end">−20</text>
<text x="96.5" y="1101.9" text-anchor="end">−40</text>
<text x="113.9" y="1173.5" text-anchor="middle">0</text>
<text x="226.3" y="1173.5" text-anchor="middle">50</text>
<text x="338.8" y="1173.5" text-anchor="middle">100</text>
<text x="451.2" y="1173.5" text-anchor="middle">150</text>
<text x="563.7" y="1173.5" text-anchor="middle">200</text>
<text x="676.1" y="1173.5" text-anchor="middle">250</text>
<text transform="translate(24.1,911.5) rotate(-90)" text-anchor="middle">Height (nm)</text>
<text x="421" text-anchor="middle" y="1222">Distance (μm)</text>
<text x="560.5" y="931.4">Step 4</text>
</g>
<polyline points="114.1,1014.4 115.6,1018.1 117.1,1020.4 118.6,1023.3 120.1,1020.9 121.6,1022.7 123.1,1023.0 124.6,1022.5 126.1,1021.5 127.6,1023.2 129.1,1021.3 130.6,1020.1 132.1,1014.0 133.6,1013.3 135.1,1016.6 136.6,1016.9 138.1,1013.5 139.6,1013.4 141.1,1009.1 142.6,1013.7 144.1,1019.6 145.6,1021.6 147.1,1024.5 148.6,1027.9 150.1,1025.3 151.6,1023.6 153.1,1023.0 154.6,1024.3 156.1,1024.4 157.6,1024.3 159.1,1021.2 160.6,1019.0 162.1,1017.9 163.6,1014.2 165.1,1013.0 166.6,1010.1 168.1,1016.1 169.6,1014.2 171.1,1019.8 172.6,1017.1 174.1,1013.6 175.6,1011.0 177.1,1010.3 178.6,1011.1 180.1,1010.0 181.6,1005.6 183.1,1005.0 184.6,1007.4 186.1,1007.3 187.6,1005.8 189.1,1003.6 190.6,1004.2 192.1,998.9 193.6,999.0 195.1,998.9 196.6,1003.6 198.1,1003.4 199.6,1006.6 201.1,1005.8 202.6,1005.5 204.1,1006.6 205.6,1011.9 207.1,1011.3 208.6,1010.0 210.1,1009.3 211.6,1013.1 213.1,1014.3 214.6,1011.3 216.1,1008.8 217.6,1009.8 219.1,1009.9 220.6,1004.5 222.1,1002.9 223.6,1004.3 225.1,1004.3 226.6,1005.5 228.1,1002.1 229.6,1005.5 231.1,1008.9 232.6,1011.1 234.1,1013.0 235.6,1020.1 237.1,1015.4 238.6,1017.7 240.1,1013.5 241.6,1012.7 243.1,1015.8 244.6,1014.5 246.1,1019.9 247.6,1018.7 249.1,1018.3 250.6,1019.4 252.1,1019.8 253.6,1020.6 255.1,1021.5 256.6,1015.9 258.1,1017.7 259.6,1019.6 261.1,1027.1 262.6,1025.2 264.1,1027.6 265.6,1025.4 267.1,1024.4 268.6,1024.4 270.1,1021.2 271.6,1018.1 272.5,1018.0 274.0,1022.0 275.5,1035.5 277.0,1021.0 278.5,1014.0 280.0,1022.5 281.5,1010.0 283.0,1035.5 284.5,1013.0 286.0,1064.0 287.5,1075.0 289.0,1074.0 290.5,1064.0 292.0,1049.0 292.6,1043.3 294.1,1043.6 295.6,1047.0 297.1,1041.8 298.6,1046.6 300.1,1042.6 301.6,1044.3 303.1,1047.8 304.6,1048.6 306.1,1047.0 307.6,1044.0 309.1,1045.3 310.6,1043.5 312.1,1045.6 313.6,1040.0 315.1,1039.8 316.6,1042.5 318.1,1037.6 319.6,1040.3 321.1,1043.0 322.6,1043.0 324.1,1039.0 325.6,1039.3 327.1,1040.0 328.6,1045.6 330.1,1042.1 331.6,1045.6 333.1,1047.0 334.6,1044.1 336.1,1044.2 337.6,1048.1 339.1,1045.6 340.6,1042.9 342.1,1045.2 343.6,1042.3 345.1,1041.5 346.6,1039.4 348.1,1043.5 349.6,1044.3 351.1,1042.4 352.6,1044.0 354.1,1038.3 355.6,1039.4 357.1,1040.6 358.6,1043.3 360.1,1043.1 361.6,1039.5 363.1,1038.6 364.6,1040.4 366.1,1041.4 367.6,1044.6 369.1,1040.8 370.6,1045.2 372.1,1045.4 373.6,1046.6 375.1,1046.9 376.6,1045.3 378.1,1041.1 379.6,1038.6 381.1,1036.3 382.6,1038.8 384.1,1035.9 385.6,1037.8 387.1,1042.4 388.6,1040.6 390.1,1040.8 391.6,1041.8 393.1,1046.0 394.6,1044.6 396.1,1048.4 397.6,1047.7 399.1,1048.3 400.6,1043.8 402.1,1042.7 403.6,1042.7 405.1,1045.0 406.6,1046.9 408.1,1046.0 409.6,1045.4 411.1,1047.1 412.6,1049.0 414.1,1050.0 415.6,1051.1 417.1,1052.3 418.6,1051.9 420.1,1049.2 421.6,1054.2 423.1,1050.7 424.6,1050.3 426.1,1047.1 427.6,1047.3 429.1,1042.0 430.6,1040.6 432.1,1039.2 433.6,1037.4 435.1,1040.5 436.6,1037.3 438.1,1034.5 439.6,1033.6 441.1,1039.9 442.6,1041.1 444.1,1043.5 445.6,1049.8 447.1,1049.9 448.6,1052.9 450.1,1048.6 451.6,1051.8 453.1,1054.4 454.6,1054.2 456.1,1054.4 457.6,1048.8 459.1,1050.0 460.6,1048.6 462.1,1048.7 463.6,1053.1 465.1,1050.5 466.6,1053.0 468.1,1050.0 469.6,1053.4 471.1,1051.3 472.6,1050.5 474.1,1054.0 475.6,1054.7 477.1,1047.8 478.6,1048.8 480.1,1047.1 481.6,1046.2 483.1,1048.6 484.6,1048.7 486.1,1050.6 487.6,1052.4 489.1,1056.0 490.6,1057.7 492.1,1056.2 493.2,1058.9 493.9,1037.6 495.1,1013.8 496.6,969.2 498.7,903.4 500.0,852.0 501.6,807.8 503.4,777.4 504.1,776.1 505.6,769.6 507.1,766.4 508.6,765.6 510.1,764.2 511.6,762.3 513.1,756.7 514.6,752.8 516.1,749.9 517.6,742.2 519.1,740.3 520.6,739.7 522.1,742.8 523.6,738.2 525.1,739.0 526.6,736.6 528.1,735.7 529.6,737.2 531.1,736.7 532.6,731.7 534.1,731.7 535.6,737.5 537.1,737.0 538.6,738.1 540.1,743.6 541.6,740.9 543.1,743.5 544.6,741.2 546.1,744.3 547.6,741.9 549.1,740.3 550.6,739.6 552.1,743.0 553.6,743.7 555.1,745.5 556.6,740.8 558.1,744.2 559.6,743.4 561.1,746.5 562.6,746.6 564.1,749.6 565.6,753.3 567.1,757.7 568.6,750.6 570.1,750.6 571.6,750.2 573.1,749.0 574.6,742.1 576.1,739.4 577.6,743.8 579.1,754.5 580.6,757.1 582.1,752.5 583.6,755.7 585.1,750.5 586.6,751.5 588.1,748.6 589.6,751.9 591.1,749.9 592.6,755.7 594.1,754.3 595.6,757.4 597.1,759.6 598.6,758.9 600.1,754.5 601.6,754.2 603.1,754.8 604.6,753.2 606.1,749.7 607.6,745.3 609.1,743.3 610.6,743.4 612.1,743.5 613.6,738.6 615.1,742.0 616.6,743.4 618.1,739.4 619.6,742.8 621.1,734.6 622.6,733.6 624.1,729.4 625.6,726.0 627.1,720.2 628.6,722.4 630.1,733.1 631.6,741.9 633.1,753.0 634.6,746.7 636.1,740.7 637.6,733.8 639.1,736.4 640.6,734.7 642.1,732.2 643.6,734.5 645.1,733.7 646.6,731.3 648.1,729.3 649.6,730.7 651.1,728.1 652.6,727.9 654.1,729.3 655.6,726.6 657.1,726.7 658.6,725.2 660.1,720.5 661.6,722.1 663.1,716.9 664.6,719.8 666.1,725.6 667.6,729.5 669.1,728.5 670.6,729.7 672.1,727.5 673.6,729.4 675.1,723.0 676.6,725.8 678.1,725.2 679.6,722.8 681.1,723.1 682.6,719.1 684.1,723.6 685.6,720.4 687.1,723.3 688.6,723.8 690.1,720.1 691.6,724.6 693.1,726.2 694.6,723.4 696.1,734.0 697.6,740.5 699.1,735.5 700.6,738.4 702.1,733.2 703.6,735.0 705.1,731.6 706.6,740.1 708.1,748.9 709.6,751.0 711.1,747.2 712.6,742.2 714.1,739.1 715.6,735.4 717.1,734.3 718.6,732.2 720.1,734.9 721.6,734.4 723.1,737.2 724.6,734.3 726.1,739.5 727.6,737.0" fill="none" stroke="#666" stroke-width="1"/>
<path d="M109.4 1009.7h9.3v9.3h-9.3zM110.9 1013.5h9.3v9.3h-9.3zM112.4 1015.7h9.3v9.3h-9.3zM113.9 1018.6h9.3v9.3h-9.3zM115.4 1016.2h9.3v9.3h-9.3zM116.9 1018.1h9.3v9.3h-9.3zM118.4 1018.3h9.3v9.3h-9.3zM119.9 1017.9h9.3v9.3h-9.3zM121.4 1016.8h9.3v9.3h-9.3zM122.9 1018.6h9.3v9.3h-9.3zM124.4 1016.6h9.3v9.3h-9.3zM125.9 1015.4h9.3v9.3h-9.3zM127.4 1009.4h9.3v9.3h-9.3zM128.9 1008.7h9.3v9.3h-9.3zM130.4 1011.9h9.3v9.3h-9.3zM131.9 1012.2h9.3v9.3h-9.3zM133.4 1008.9h9.3v9.3h-9.3zM134.9 1008.8h9.3v9.3h-9.3zM136.4 1004.5h9.3v9.3h-9.3zM137.9 1009.0h9.3v9.3h-9.3zM139.4 1014.9h9.3v9.3h-9.3zM140.9 1017.0h9.3v9.3h-9.3zM142.4 1019.8h9.3v9.3h-9.3zM143.9 1023.2h9.3v9.3h-9.3zM145.4 1020.6h9.3v9.3h-9.3zM146.9 1018.9h9.3v9.3h-9.3zM148.4 1018.3h9.3v9.3h-9.3zM149.9 1019.7h9.3v9.3h-9.3zM151.4 1019.8h9.3v9.3h-9.3zM152.9 1019.7h9.3v9.3h-9.3zM154.4 1016.5h9.3v9.3h-9.3zM155.9 1014.3h9.3v9.3h-9.3zM157.4 1013.2h9.3v9.3h-9.3zM158.9 1009.6h9.3v9.3h-9.3zM160.4 1008.4h9.3v9.3h-9.3zM161.9 1005.5h9.3v9.3h-9.3zM163.4 1011.4h9.3v9.3h-9.3zM164.9 1009.6h9.3v9.3h-9.3zM166.4 1015.2h9.3v9.3h-9.3zM167.9 1012.4h9.3v9.3h-9.3zM169.4 1008.9h9.3v9.3h-9.3zM170.9 1006.4h9.3v9.3h-9.3zM172.4 1005.6h9.3v9.3h-9.3zM173.9 1006.4h9.3v9.3h-9.3zM175.4 1005.3h9.3v9.3h-9.3zM176.9 1001.0h9.3v9.3h-9.3zM178.4 1000.4h9.3v9.3h-9.3zM179.9 1002.7h9.3v9.3h-9.3zM181.4 1002.7h9.3v9.3h-9.3zM182.9 1001.1h9.3v9.3h-9.3zM184.4 999.0h9.3v9.3h-9.3zM185.9 999.5h9.3v9.3h-9.3zM187.4 994.3h9.3v9.3h-9.3zM188.9 994.3h9.3v9.3h-9.3zM190.4 994.3h9.3v9.3h-9.3zM191.9 998.9h9.3v9.3h-9.3zM193.4 998.8h9.3v9.3h-9.3zM194.9 1001.9h9.3v9.3h-9.3zM196.4 1001.2h9.3v9.3h-9.3zM197.9 1000.9h9.3v9.3h-9.3zM199.4 1001.9h9.3v9.3h-9.3zM200.9 1007.2h9.3v9.3h-9.3zM202.4 1006.7h9.3v9.3h-9.3zM203.9 1005.3h9.3v9.3h-9.3zM205.4 1004.6h9.3v9.3h-9.3zM206.9 1008.5h9.3v9.3h-9.3zM208.4 1009.7h9.3v9.3h-9.3zM209.9 1006.7h9.3v9.3h-9.3zM211.4 1004.2h9.3v9.3h-9.3zM212.9 1005.2h9.3v9.3h-9.3zM214.4 1005.2h9.3v9.3h-9.3zM215.9 999.9h9.3v9.3h-9.3zM217.4 998.3h9.3v9.3h-9.3zM218.9 999.6h9.3v9.3h-9.3zM220.4 999.7h9.3v9.3h-9.3zM221.9 1000.8h9.3v9.3h-9.3zM223.4 997.5h9.3v9.3h-9.3zM224.9 1000.9h9.3v9.3h-9.3zM226.4 1004.2h9.3v9.3h-9.3zM227.9 1006.5h9.3v9.3h-9.3zM229.4 1008.4h9.3v9.3h-9.3zM230.9 1015.5h9.3v9.3h-9.3zM232.4 1010.8h9.3v9.3h-9.3zM233.9 1013.1h9.3v9.3h-9.3zM235.4 1008.8h9.3v9.3h-9.3zM236.9 1008.0h9.3v9.3h-9.3zM238.4 1011.1h9.3v9.3h-9.3zM239.9 1009.8h9.3v9.3h-9.3zM241.4 1015.3h9.3v9.3h-9.3zM242.9 1014.0h9.3v9.3h-9.3zM244.4 1013.7h9.3v9.3h-9.3zM245.9 1014.8h9.3v9.3h-9.3zM247.4 1015.2h9.3v9.3h-9.3zM248.9 1015.9h9.3v9.3h-9.3zM250.4 1016.9h9.3v9.3h-9.3zM252.0 1011.3h9.3v9.3h-9.3zM253.5 1013.0h9.3v9.3h-9.3zM255.0 1014.9h9.3v9.3h-9.3zM256.5 1022.5h9.3v9.3h-9.3zM258.0 1020.5h9.3v9.3h-9.3zM259.5 1023.0h9.3v9.3h-9.3zM261.0 1020.8h9.3v9.3h-9.3zM262.5 1019.7h9.3v9.3h-9.3zM264.0 1019.7h9.3v9.3h-9.3zM265.5 1016.6h9.3v9.3h-9.3zM267.0 1013.4h9.3v9.3h-9.3zM267.9 1013.4h9.3v9.3h-9.3zM269.4 1017.4h9.3v9.3h-9.3zM270.9 1030.8h9.3v9.3h-9.3zM272.4 1016.4h9.3v9.3h-9.3zM273.9 1009.4h9.3v9.3h-9.3zM275.4 1017.9h9.3v9.3h-9.3zM276.9 1005.4h9.3v9.3h-9.3zM278.4 1030.8h9.3v9.3h-9.3zM279.9 1008.4h9.3v9.3h-9.3zM281.4 1059.3h9.3v9.3h-9.3zM282.9 1070.3h9.3v9.3h-9.3zM284.4 1069.3h9.3v9.3h-9.3zM285.9 1059.3h9.3v9.3h-9.3zM287.4 1044.3h9.3v9.3h-9.3zM288.0 1038.7h9.3v9.3h-9.3zM289.5 1038.9h9.3v9.3h-9.3zM291.0 1042.3h9.3v9.3h-9.3zM292.5 1037.1h9.3v9.3h-9.3zM294.0 1042.0h9.3v9.3h-9.3zM295.5 1038.0h9.3v9.3h-9.3zM297.0 1039.6h9.3v9.3h-9.3zM298.5 1043.2h9.3v9.3h-9.3zM300.0 1043.9h9.3v9.3h-9.3zM301.5 1042.3h9.3v9.3h-9.3zM303.0 1039.4h9.3v9.3h-9.3zM304.5 1040.7h9.3v9.3h-9.3zM306.0 1038.9h9.3v9.3h-9.3zM307.5 1040.9h9.3v9.3h-9.3zM309.0 1035.4h9.3v9.3h-9.3zM310.5 1035.2h9.3v9.3h-9.3zM312.0 1037.9h9.3v9.3h-9.3zM313.5 1033.0h9.3v9.3h-9.3zM315.0 1035.6h9.3v9.3h-9.3zM316.5 1038.3h9.3v9.3h-9.3zM318.0 1038.4h9.3v9.3h-9.3zM319.5 1034.3h9.3v9.3h-9.3zM321.0 1034.7h9.3v9.3h-9.3zM322.5 1035.3h9.3v9.3h-9.3zM324.0 1041.0h9.3v9.3h-9.3zM325.5 1037.5h9.3v9.3h-9.3zM327.0 1040.9h9.3v9.3h-9.3zM328.5 1042.3h9.3v9.3h-9.3zM330.0 1039.5h9.3v9.3h-9.3zM331.5 1039.6h9.3v9.3h-9.3zM333.0 1043.4h9.3v9.3h-9.3zM334.5 1040.9h9.3v9.3h-9.3zM336.0 1038.3h9.3v9.3h-9.3zM337.5 1040.5h9.3v9.3h-9.3zM339.0 1037.6h9.3v9.3h-9.3zM340.5 1036.9h9.3v9.3h-9.3zM342.0 1034.8h9.3v9.3h-9.3zM343.5 1038.8h9.3v9.3h-9.3zM345.0 1039.6h9.3v9.3h-9.3zM346.5 1037.7h9.3v9.3h-9.3zM348.0 1039.4h9.3v9.3h-9.3zM349.5 1033.7h9.3v9.3h-9.3zM351.0 1034.7h9.3v9.3h-9.3zM352.5 1036.0h9.3v9.3h-9.3zM354.0 1038.7h9.3v9.3h-9.3zM355.5 1038.4h9.3v9.3h-9.3zM357.0 1034.8h9.3v9.3h-9.3zM358.5 1034.0h9.3v9.3h-9.3zM360.0 1035.7h9.3v9.3h-9.3zM361.5 1036.7h9.3v9.3h-9.3zM363.0 1040.0h9.3v9.3h-9.3zM364.5 1036.2h9.3v9.3h-9.3zM366.0 1040.5h9.3v9.3h-9.3zM367.5 1040.8h9.3v9.3h-9.3zM369.0 1042.0h9.3v9.3h-9.3zM370.5 1042.3h9.3v9.3h-9.3zM372.0 1040.7h9.3v9.3h-9.3zM373.5 1036.5h9.3v9.3h-9.3zM375.0 1033.9h9.3v9.3h-9.3zM376.5 1031.7h9.3v9.3h-9.3zM378.0 1034.2h9.3v9.3h-9.3zM379.5 1031.2h9.3v9.3h-9.3zM381.0 1033.2h9.3v9.3h-9.3zM382.5 1037.7h9.3v9.3h-9.3zM384.0 1036.0h9.3v9.3h-9.3zM385.5 1036.1h9.3v9.3h-9.3zM387.0 1037.2h9.3v9.3h-9.3zM388.5 1041.4h9.3v9.3h-9.3zM390.0 1039.9h9.3v9.3h-9.3zM391.5 1043.7h9.3v9.3h-9.3zM393.0 1043.1h9.3v9.3h-9.3zM394.5 1043.6h9.3v9.3h-9.3zM396.0 1039.2h9.3v9.3h-9.3zM397.5 1038.0h9.3v9.3h-9.3zM399.0 1038.0h9.3v9.3h-9.3zM400.5 1040.4h9.3v9.3h-9.3zM402.0 1042.3h9.3v9.3h-9.3zM403.5 1041.4h9.3v9.3h-9.3zM405.0 1040.7h9.3v9.3h-9.3zM406.5 1042.5h9.3v9.3h-9.3zM408.0 1044.4h9.3v9.3h-9.3zM409.5 1045.3h9.3v9.3h-9.3zM411.0 1046.4h9.3v9.3h-9.3zM412.5 1047.7h9.3v9.3h-9.3zM414.0 1047.2h9.3v9.3h-9.3zM415.5 1044.6h9.3v9.3h-9.3zM417.0 1049.6h9.3v9.3h-9.3zM418.5 1046.0h9.3v9.3h-9.3zM420.0 1045.6h9.3v9.3h-9.3zM421.5 1042.5h9.3v9.3h-9.3zM423.0 1042.6h9.3v9.3h-9.3zM424.5 1037.4h9.3v9.3h-9.3zM426.0 1035.9h9.3v9.3h-9.3zM427.5 1034.6h9.3v9.3h-9.3zM429.0 1032.7h9.3v9.3h-9.3zM430.5 1035.8h9.3v9.3h-9.3zM432.0 1032.7h9.3v9.3h-9.3zM433.5 1029.9h9.3v9.3h-9.3zM435.0 1029.0h9.3v9.3h-9.3zM436.5 1035.2h9.3v9.3h-9.3zM438.0 1036.4h9.3v9.3h-9.3zM439.5 1038.9h9.3v9.3h-9.3zM441.0 1045.2h9.3v9.3h-9.3zM442.5 1045.3h9.3v9.3h-9.3zM444.0 1048.3h9.3v9.3h-9.3zM445.5 1043.9h9.3v9.3h-9.3zM447.0 1047.1h9.3v9.3h-9.3zM448.5 1049.8h9.3v9.3h-9.3zM450.0 1049.6h9.3v9.3h-9.3zM451.5 1049.7h9.3v9.3h-9.3zM453.0 1044.1h9.3v9.3h-9.3zM454.5 1045.3h9.3v9.3h-9.3zM456.0 1044.0h9.3v9.3h-9.3zM457.5 1044.1h9.3v9.3h-9.3zM459.0 1048.5h9.3v9.3h-9.3zM460.5 1045.9h9.3v9.3h-9.3zM462.0 1048.3h9.3v9.3h-9.3zM463.5 1045.4h9.3v9.3h-9.3zM465.0 1048.7h9.3v9.3h-9.3zM466.5 1046.6h9.3v9.3h-9.3zM468.0 1045.9h9.3v9.3h-9.3zM469.5 1049.4h9.3v9.3h-9.3zM471.0 1050.0h9.3v9.3h-9.3zM472.5 1043.1h9.3v9.3h-9.3zM474.0 1044.2h9.3v9.3h-9.3zM475.5 1042.5h9.3v9.3h-9.3zM477.0 1041.6h9.3v9.3h-9.3zM478.5 1044.0h9.3v9.3h-9.3zM480.0 1044.1h9.3v9.3h-9.3zM481.5 1046.0h9.3v9.3h-9.3zM483.0 1047.8h9.3v9.3h-9.3zM484.5 1051.3h9.3v9.3h-9.3zM486.0 1053.1h9.3v9.3h-9.3zM487.5 1051.6h9.3v9.3h-9.3zM488.6 1054.2h9.3v9.3h-9.3zM489.2 1032.9h9.3v9.3h-9.3zM490.5 1009.1h9.3v9.3h-9.3zM492.0 964.6h9.3v9.3h-9.3zM494.1 898.8h9.3v9.3h-9.3zM495.4 847.4h9.3v9.3h-9.3zM497.0 803.1h9.3v9.3h-9.3zM498.8 772.8h9.3v9.3h-9.3zM499.5 771.4h9.3v9.3h-9.3zM501.0 765.0h9.3v9.3h-9.3zM502.5 761.7h9.3v9.3h-9.3zM504.0 761.0h9.3v9.3h-9.3zM505.5 759.5h9.3v9.3h-9.3zM507.0 757.7h9.3v9.3h-9.3zM508.5 752.0h9.3v9.3h-9.3zM510.0 748.1h9.3v9.3h-9.3zM511.5 745.3h9.3v9.3h-9.3zM513.0 737.5h9.3v9.3h-9.3zM514.5 735.6h9.3v9.3h-9.3zM516.0 735.0h9.3v9.3h-9.3zM517.5 738.2h9.3v9.3h-9.3zM519.0 733.6h9.3v9.3h-9.3zM520.5 734.3h9.3v9.3h-9.3zM522.0 732.0h9.3v9.3h-9.3zM523.5 731.1h9.3v9.3h-9.3zM525.0 732.5h9.3v9.3h-9.3zM526.5 732.1h9.3v9.3h-9.3zM528.0 727.0h9.3v9.3h-9.3zM529.5 727.1h9.3v9.3h-9.3zM531.0 732.9h9.3v9.3h-9.3zM532.5 732.3h9.3v9.3h-9.3zM534.0 733.4h9.3v9.3h-9.3zM535.5 739.0h9.3v9.3h-9.3zM537.0 736.3h9.3v9.3h-9.3zM538.5 738.9h9.3v9.3h-9.3zM540.0 736.6h9.3v9.3h-9.3zM541.5 739.6h9.3v9.3h-9.3zM543.0 737.3h9.3v9.3h-9.3zM544.5 735.7h9.3v9.3h-9.3zM546.0 735.0h9.3v9.3h-9.3zM547.5 738.4h9.3v9.3h-9.3zM549.0 739.1h9.3v9.3h-9.3zM550.5 740.9h9.3v9.3h-9.3zM552.0 736.2h9.3v9.3h-9.3zM553.5 739.5h9.3v9.3h-9.3zM555.0 738.8h9.3v9.3h-9.3zM556.5 741.8h9.3v9.3h-9.3zM558.0 741.9h9.3v9.3h-9.3zM559.5 745.0h9.3v9.3h-9.3zM561.0 748.7h9.3v9.3h-9.3zM562.5 753.1h9.3v9.3h-9.3zM564.0 745.9h9.3v9.3h-9.3zM565.5 745.9h9.3v9.3h-9.3zM567.0 745.6h9.3v9.3h-9.3zM568.5 744.3h9.3v9.3h-9.3zM570.0 737.4h9.3v9.3h-9.3zM571.5 734.8h9.3v9.3h-9.3zM573.0 739.1h9.3v9.3h-9.3zM574.5 749.9h9.3v9.3h-9.3zM576.0 752.4h9.3v9.3h-9.3zM577.5 747.8h9.3v9.3h-9.3zM579.0 751.1h9.3v9.3h-9.3zM580.5 745.8h9.3v9.3h-9.3zM582.0 746.9h9.3v9.3h-9.3zM583.5 744.0h9.3v9.3h-9.3zM585.0 747.2h9.3v9.3h-9.3zM586.5 745.3h9.3v9.3h-9.3zM588.0 751.0h9.3v9.3h-9.3zM589.5 749.7h9.3v9.3h-9.3zM591.0 752.8h9.3v9.3h-9.3zM592.5 754.9h9.3v9.3h-9.3zM594.0 754.3h9.3v9.3h-9.3zM595.5 749.9h9.3v9.3h-9.3zM597.0 749.6h9.3v9.3h-9.3zM598.5 750.2h9.3v9.3h-9.3zM600.0 748.6h9.3v9.3h-9.3zM601.5 745.0h9.3v9.3h-9.3zM603.0 740.7h9.3v9.3h-9.3zM604.5 738.7h9.3v9.3h-9.3zM606.0 738.8h9.3v9.3h-9.3zM607.5 738.9h9.3v9.3h-9.3zM609.0 734.0h9.3v9.3h-9.3zM610.5 737.4h9.3v9.3h-9.3zM612.0 738.8h9.3v9.3h-9.3zM613.5 734.7h9.3v9.3h-9.3zM615.0 738.1h9.3v9.3h-9.3zM616.5 729.9h9.3v9.3h-9.3zM618.0 728.9h9.3v9.3h-9.3zM619.5 724.7h9.3v9.3h-9.3zM621.0 721.3h9.3v9.3h-9.3zM622.5 715.5h9.3v9.3h-9.3zM624.0 717.8h9.3v9.3h-9.3zM625.5 728.5h9.3v9.3h-9.3zM627.0 737.2h9.3v9.3h-9.3zM628.5 748.4h9.3v9.3h-9.3zM630.0 742.1h9.3v9.3h-9.3zM631.5 736.0h9.3v9.3h-9.3zM633.0 729.2h9.3v9.3h-9.3zM634.5 731.8h9.3v9.3h-9.3zM636.0 730.1h9.3v9.3h-9.3zM637.5 727.6h9.3v9.3h-9.3zM639.0 729.8h9.3v9.3h-9.3zM640.5 729.0h9.3v9.3h-9.3zM642.0 726.7h9.3v9.3h-9.3zM643.5 724.6h9.3v9.3h-9.3zM645.0 726.0h9.3v9.3h-9.3zM646.5 723.5h9.3v9.3h-9.3zM648.0 723.2h9.3v9.3h-9.3zM649.5 724.6h9.3v9.3h-9.3zM651.0 721.9h9.3v9.3h-9.3zM652.5 722.1h9.3v9.3h-9.3zM654.0 720.6h9.3v9.3h-9.3zM655.5 715.8h9.3v9.3h-9.3zM657.0 717.5h9.3v9.3h-9.3zM658.5 712.2h9.3v9.3h-9.3zM660.0 715.2h9.3v9.3h-9.3zM661.5 720.9h9.3v9.3h-9.3zM663.0 724.9h9.3v9.3h-9.3zM664.5 723.9h9.3v9.3h-9.3zM666.0 725.1h9.3v9.3h-9.3zM667.5 722.8h9.3v9.3h-9.3zM669.0 724.8h9.3v9.3h-9.3zM670.5 718.4h9.3v9.3h-9.3zM672.0 721.2h9.3v9.3h-9.3zM673.5 720.5h9.3v9.3h-9.3zM675.0 718.2h9.3v9.3h-9.3zM676.5 718.4h9.3v9.3h-9.3zM678.0 714.5h9.3v9.3h-9.3zM679.5 718.9h9.3v9.3h-9.3zM681.0 715.8h9.3v9.3h-9.3zM682.5 718.7h9.3v9.3h-9.3zM684.0 719.2h9.3v9.3h-9.3zM685.5 715.4h9.3v9.3h-9.3zM687.0 719.9h9.3v9.3h-9.3zM688.5 721.5h9.3v9.3h-9.3zM690.0 718.7h9.3v9.3h-9.3zM691.5 729.4h9.3v9.3h-9.3zM693.0 735.9h9.3v9.3h-9.3zM694.5 730.8h9.3v9.3h-9.3zM696.0 733.8h9.3v9.3h-9.3zM697.5 728.6h9.3v9.3h-9.3zM699.0 730.3h9.3v9.3h-9.3zM700.5 726.9h9.3v9.3h-9.3zM702.0 735.4h9.3v9.3h-9.3zM703.5 744.3h9.3v9.3h-9.3zM705.0 746.3h9.3v9.3h-9.3zM706.5 742.5h9.3v9.3h-9.3zM708.0 737.6h9.3v9.3h-9.3zM709.5 734.5h9.3v9.3h-9.3zM711.0 730.8h9.3v9.3h-9.3zM712.5 729.7h9.3v9.3h-9.3zM714.0 727.6h9.3v9.3h-9.3zM715.5 730.2h9.3v9.3h-9.3zM717.0 729.7h9.3v9.3h-9.3zM718.5 732.5h9.3v9.3h-9.3zM720.0 729.7h9.3v9.3h-9.3zM721.5 734.9h9.3v9.3h-9.3zM723.0 732.3h9.3v9.3h-9.3z" fill="#000"/>
<circle cx="296" cy="1042" r="48" fill="none" stroke="#000" stroke-width="4" stroke-dasharray="11 6.6" transform="rotate(-84 296 1042)"/>
<path d="M955.9 682.4V1135.6H1573.9" fill="none" stroke="#434343" stroke-width="2.3"/>
<path d="M945.9 682.4h10.0M950.4 723.6h5.5M945.9 764.8h10.0M950.4 806.0h5.5M945.9 847.2h10.0M950.4 888.4h5.5M945.9 929.6h10.0M950.4 970.8h5.5M945.9 1012.0h10.0M950.4 1053.2h5.5M945.9 1094.4h10.0M950.4 1135.6h5.5M955.9 1135.6v10.0M1017.7 1135.6v5.5M1079.5 1135.6v10.0M1141.3 1135.6v5.5M1203.1 1135.6v10.0M1264.9 1135.6v5.5M1326.7 1135.6v10.0M1388.5 1135.6v5.5M1450.3 1135.6v10.0M1512.1 1135.6v5.5M1573.9 1135.6v10.0" stroke="#434343" stroke-width="2.3" fill="none"/>
<g font-size="29" fill="#000">
<text x="938.5" y="692.4" text-anchor="end">60</text>
<text x="938.5" y="774.8" text-anchor="end">40</text>
<text x="938.5" y="857.2" text-anchor="end">20</text>
<text x="938.5" y="939.6" text-anchor="end">0</text>
<text x="938.5" y="1022.0" text-anchor="end">−20</text>
<text x="938.5" y="1104.4" text-anchor="end">−40</text>
<text x="955.9" y="1176.2" text-anchor="middle">50</text>
<text x="1079.5" y="1179.2" text-anchor="middle">60</text>
<text x="1203.1" y="1175.2" text-anchor="middle">70</text>
<text x="1326.7" y="1178.2" text-anchor="middle">80</text>
<text x="1450.3" y="1178.2" text-anchor="middle">90</text>
<text x="1573.9" y="1180.2" text-anchor="middle">100</text>
<text transform="translate(871.8,911.6) rotate(-90)" text-anchor="middle">Height (nm)</text>
<text x="1265" y="1222.5" text-anchor="middle">Distance (μm)</text>
<text x="1110.5" y="993.1">Layer 1</text>
<text x="1378" y="1090.7">Layer 2</text>
</g>
<polyline points="952.6,1006.3 962.6,1007.0 970.2,1004.6 977.7,1003.8 985.2,1012.1 993.9,1020.1 1002.2,1023.9 1010.2,1016.3 1019.0,1011.3 1027.7,1013.1 1035.2,1013.8 1042.8,1016.3 1051.5,1018.3 1060.3,1020.9 1067.8,1018.8 1076.5,1017.1 1085.3,1022.6 1092.8,1026.4 1101.6,1025.9 1110.3,1018.3 1117.8,1020.6 1126.6,1025.9 1135.4,1021.4 1142.9,1017.6 1151.6,1022.6 1159.1,1031.4 1167.9,1035.1 1176.7,1026.4 1184.9,1021.4 1192.9,1023.9 1200.4,1026.4 1209.2,1018.8 1218.0,1017.6 1226.7,1020.1 1234.2,1037.6 1242.3,1021.0 1251.1,1024.7 1259.3,1011.5 1267.2,1015.2 1275.5,1037.9 1284.2,1075.7 1292.2,1077.0 1300.4,1078.2 1309.1,1066.5 1317.1,1052.1 1325.3,1044.6 1334.0,1044.1 1342.0,1041.6 1350.2,1040.9 1358.2,1039.1 1366.4,1042.1 1375.1,1047.1 1383.1,1049.6 1391.3,1052.6 1399.3,1049.6 1408.0,1042.6 1416.2,1045.9 1424.2,1052.1 1432.9,1051.6 1441.1,1043.4 1449.1,1038.4 1457.8,1044.1 1466.0,1048.3 1474.0,1045.9 1482.7,1043.4 1490.9,1047.6 1498.9,1045.9 1507.6,1037.9 1515.8,1039.1 1523.8,1046.6 1532.0,1047.6 1540.7,1045.9 1548.7,1044.1 1557.4,1046.6 1565.6,1048.3 1573.6,1049.6" fill="none" stroke="#666" stroke-width="1"/>
<path d="M948.2 1001.9h8.8v8.8h-8.8zM958.2 1002.6h8.8v8.8h-8.8zM965.8 1000.2h8.8v8.8h-8.8zM973.3 999.4h8.8v8.8h-8.8zM980.8 1007.7h8.8v8.8h-8.8zM989.5 1015.7h8.8v8.8h-8.8zM997.8 1019.5h8.8v8.8h-8.8zM1005.8 1011.9h8.8v8.8h-8.8zM1014.6 1006.9h8.8v8.8h-8.8zM1023.3 1008.7h8.8v8.8h-8.8zM1030.8 1009.4h8.8v8.8h-8.8zM1038.4 1011.9h8.8v8.8h-8.8zM1047.1 1013.9h8.8v8.8h-8.8zM1055.9 1016.5h8.8v8.8h-8.8zM1063.4 1014.4h8.8v8.8h-8.8zM1072.1 1012.7h8.8v8.8h-8.8zM1080.9 1018.2h8.8v8.8h-8.8zM1088.4 1022.0h8.8v8.8h-8.8zM1097.2 1021.5h8.8v8.8h-8.8zM1105.9 1013.9h8.8v8.8h-8.8zM1113.4 1016.2h8.8v8.8h-8.8zM1122.2 1021.5h8.8v8.8h-8.8zM1131.0 1017.0h8.8v8.8h-8.8zM1138.5 1013.2h8.8v8.8h-8.8zM1147.2 1018.2h8.8v8.8h-8.8zM1154.7 1027.0h8.8v8.8h-8.8zM1163.5 1030.7h8.8v8.8h-8.8zM1172.3 1022.0h8.8v8.8h-8.8zM1180.5 1017.0h8.8v8.8h-8.8zM1188.5 1019.5h8.8v8.8h-8.8zM1196.0 1022.0h8.8v8.8h-8.8zM1204.8 1014.4h8.8v8.8h-8.8zM1213.6 1013.2h8.8v8.8h-8.8zM1222.3 1015.7h8.8v8.8h-8.8zM1229.8 1033.2h8.8v8.8h-8.8zM1237.9 1016.6h8.8v8.8h-8.8zM1246.7 1020.3h8.8v8.8h-8.8zM1254.9 1007.1h8.8v8.8h-8.8zM1262.8 1010.8h8.8v8.8h-8.8zM1271.1 1033.5h8.8v8.8h-8.8zM1279.8 1071.3h8.8v8.8h-8.8zM1287.8 1072.6h8.8v8.8h-8.8zM1296.0 1073.8h8.8v8.8h-8.8zM1304.7 1062.1h8.8v8.8h-8.8zM1312.7 1047.7h8.8v8.8h-8.8zM1320.9 1040.2h8.8v8.8h-8.8zM1329.6 1039.7h8.8v8.8h-8.8zM1337.6 1037.2h8.8v8.8h-8.8zM1345.8 1036.5h8.8v8.8h-8.8zM1353.8 1034.7h8.8v8.8h-8.8zM1362.0 1037.7h8.8v8.8h-8.8zM1370.7 1042.7h8.8v8.8h-8.8zM1378.7 1045.2h8.8v8.8h-8.8zM1386.9 1048.2h8.8v8.8h-8.8zM1394.9 1045.2h8.8v8.8h-8.8zM1403.6 1038.2h8.8v8.8h-8.8zM1411.8 1041.5h8.8v8.8h-8.8zM1419.8 1047.7h8.8v8.8h-8.8zM1428.5 1047.2h8.8v8.8h-8.8zM1436.7 1039.0h8.8v8.8h-8.8zM1444.7 1034.0h8.8v8.8h-8.8zM1453.4 1039.7h8.8v8.8h-8.8zM1461.6 1043.9h8.8v8.8h-8.8zM1469.6 1041.5h8.8v8.8h-8.8zM1478.3 1039.0h8.8v8.8h-8.8zM1486.5 1043.2h8.8v8.8h-8.8zM1494.5 1041.5h8.8v8.8h-8.8zM1503.2 1033.5h8.8v8.8h-8.8zM1511.4 1034.7h8.8v8.8h-8.8zM1519.4 1042.2h8.8v8.8h-8.8zM1527.6 1043.2h8.8v8.8h-8.8zM1536.3 1041.5h8.8v8.8h-8.8zM1544.3 1039.7h8.8v8.8h-8.8zM1553.0 1042.2h8.8v8.8h-8.8zM1561.2 1043.9h8.8v8.8h-8.8zM1569.2 1045.2h8.8v8.8h-8.8z" fill="#000"/>
</svg>
</body></html>
